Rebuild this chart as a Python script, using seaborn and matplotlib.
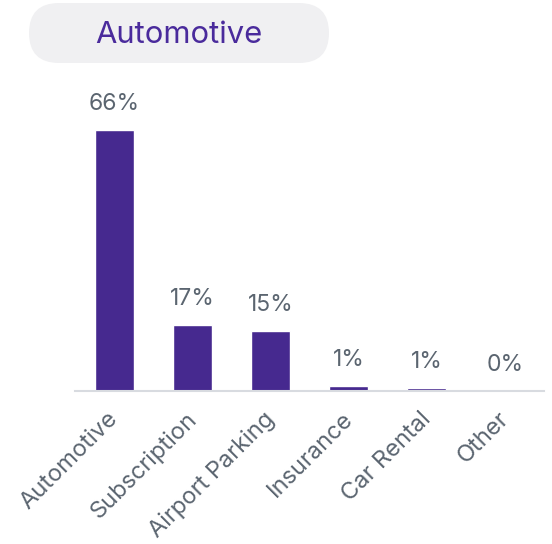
import matplotlib
matplotlib.use("Agg")
import matplotlib.pyplot as plt
import matplotlib.transforms as mtransforms
from matplotlib.patches import FancyBboxPatch
import seaborn as sns
import pandas as pd

categories = ["Automotive", "Subscription", "Airport Parking", "Insurance", "Car Rental", "Other"]
values = [66.0, 16.7, 15.2, 1.2, 0.7, 0.0]
labels = ["66%", "17%", "15%", "1%", "1%", "0%"]
title = "Automotive"

sns.set_theme(style="white")
plt.rcParams['font.family'] = ['Inter', 'DejaVu Sans']

bar_color = "#46298f"
text_gray = "#5b6570"

fig = plt.figure(figsize=(5.52, 5.44), dpi=100)
H = 544.0
W = 552.0

# background layer in pixel coordinates for the title pill
bg = fig.add_axes([0, 0, 1, 1])
bg.set_xlim(0, W)
bg.set_ylim(H, 0)
bg.axis("off")
pill = FancyBboxPatch((29, 3), 300, 60, boxstyle="round,pad=0,rounding_size=30",
                      facecolor="#f0f0f2", edgecolor="none")
bg.add_patch(pill)
bg.text(179, 35, title, ha="center", va="center", color="#4a2b9c", fontsize=22.3)

ax = fig.add_axes([75 / W, (H - 391) / H, (544 - 75) / W, 277 / H])
df = pd.DataFrame({"cat": categories, "val": values})
sns.barplot(data=df, x="cat", y="val", color=bar_color, width=0.5, ax=ax,
            saturation=1)
ax.set_ylim(0, 70)
ax.set_xlim(-0.5, 5.5)
ax.patch.set_alpha(0)
for s in ["top", "right", "left"]:
    ax.spines[s].set_visible(False)
ax.spines["bottom"].set_color("#d8dbe0")
ax.spines["bottom"].set_linewidth(1.5)
ax.set_yticks([])
ax.set_xlabel("")
ax.set_ylabel("")
ax.tick_params(axis="x", length=0, pad=12)
ax.set_xticks(range(len(categories)))
ax.set_xticklabels(categories, rotation=45, ha="right", rotation_mode="anchor",
                   color=text_gray, fontsize=17)
shift = mtransforms.ScaledTranslation(-7 / 100, 0, fig.dpi_scale_trans)
for t in ax.get_xticklabels():
    t.set_transform(t.get_transform() + shift)

for i, (v, lab) in enumerate(zip(values, labels)):
    ax.annotate(lab, (i, v), xytext=(0, 11), textcoords="offset points",
                ha="center", va="bottom", color=text_gray, fontsize=16.5)

fig.savefig("out.png", dpi=100)
